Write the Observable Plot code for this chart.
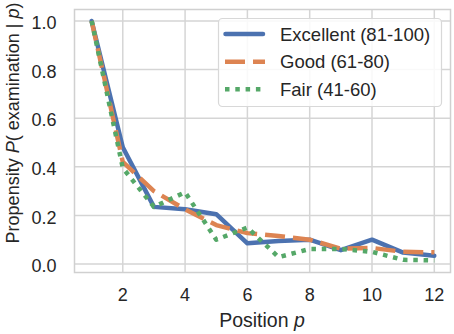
<!DOCTYPE html>
<html>
<head>
<meta charset="utf-8">
<script src="https://cdn.jsdelivr.net/npm/d3@7"></script>
<script src="https://cdn.jsdelivr.net/npm/@observablehq/plot@0.6"></script>
<style>
  html, body { margin: 0; padding: 0; background: white; }
  svg { display: block; }
</style>
</head>
<body>
<div id="chart"></div>
<script>
const positions = [1, 2, 3, 4, 5, 6, 7, 8, 9, 10, 11, 12];
const excellent = [1.0, 0.48, 0.235, 0.225, 0.205, 0.085, 0.095, 0.10, 0.057, 0.10, 0.047, 0.034];
const good      = [1.0, 0.42, 0.30, 0.225, 0.16, 0.127, 0.115, 0.10, 0.063, 0.066, 0.05, 0.048];
const fair      = [1.0, 0.395, 0.235, 0.295, 0.10, 0.15, 0.028, 0.062, 0.062, 0.05, 0.017, 0.015];
const seriesNames = ["Excellent (81-100)", "Good (61-80)", "Fair (41-60)"];
const seriesColors = ["#4c72b0", "#dd8452", "#55a868"];
const seriesDash = [null, "20,8", "4.5,5.8"];
const xTicks = [2, 4, 6, 8, 10, 12];
const yTicks = [0.0, 0.2, 0.4, 0.6, 0.8, 1.0];

const allSeries = [excellent, good, fair];
const rows = allSeries.map((vals, s) => positions.map((p, i) => ({p, v: vals[i], s: seriesNames[s]})));

const FONT = "'Liberation Sans', Arial, Helvetica, sans-serif";
const TXT = "#262626";

const lineMarks = rows.map((data, s) => Plot.line(data, {
  x: "p", y: "v",
  stroke: seriesColors[s],
  strokeWidth: 4.5,
  strokeLinecap: s === 0 ? "round" : "butt",
  strokeLinejoin: "round",
  strokeDasharray: seriesDash[s] || undefined
}));

const svg = Plot.plot({
  width: 454, height: 334,
  marginLeft: 74, marginRight: 4, marginTop: 9, marginBottom: 62,
  style: {fontFamily: FONT, fontSize: "18px", color: TXT, background: "white", overflow: "visible"},
  x: {domain: [0.45, 12.52]},
  y: {domain: [-0.035, 1.047]},
  marks: [
    Plot.gridX(xTicks, {stroke: "#d5d5d5", strokeOpacity: 1, strokeWidth: 1.5}),
    Plot.gridY(yTicks, {stroke: "#d5d5d5", strokeOpacity: 1, strokeWidth: 1.5}),
    Plot.frame({stroke: "#d0d0d0", strokeWidth: 1.5}),
    Plot.axisX(xTicks, {tickSize: 0, tickPadding: 16, label: null, fontSize: 18, fill: TXT}),
    Plot.axisY(yTicks, {tickSize: 0, tickPadding: 18, label: null, fontSize: 18, fill: TXT,
      tickFormat: d => d.toFixed(1), dy: 2.5}),
    ...lineMarks
  ]
});

const g = d3.select(svg);

// Axis labels
const xl = g.append("text")
  .attr("x", 262).attr("y", 327)
  .attr("text-anchor", "middle")
  .attr("font-family", FONT).attr("font-size", 19.5).attr("fill", TXT);
xl.append("tspan").text("Position ");
xl.append("tspan").attr("font-style", "italic").text("p");

const yl = g.append("text")
  .attr("transform", "translate(19,123) rotate(-90)")
  .attr("text-anchor", "middle")
  .attr("font-family", FONT).attr("font-size", 18).attr("fill", TXT);
yl.append("tspan").text("Propensity ");
yl.append("tspan").attr("font-style", "italic").text("P");
yl.append("tspan").text("( examination | ");
yl.append("tspan").attr("font-style", "italic").text("p");
yl.append("tspan").text(")");

// Legend
const lg = g.append("g").attr("text-anchor", "start");
lg.append("rect")
  .attr("x", 218.5).attr("y", 18.5).attr("width", 223).attr("height", 88)
  .attr("rx", 4).attr("fill", "white").attr("fill-opacity", 0.85)
  .attr("stroke", "#d8d8d8").attr("stroke-width", 1.2);
const rowY = [34, 61.7, 89.2];
seriesNames.forEach((name, s) => {
  const ln = lg.append("line")
    .attr("x1", s === 0 ? 225.5 : 225).attr("x2", s === 0 ? 263 : 265)
    .attr("y1", rowY[s]).attr("y2", rowY[s])
    .attr("stroke", seriesColors[s]).attr("stroke-width", 4.5)
    .attr("stroke-linecap", s === 0 ? "round" : "butt");
  if (seriesDash[s]) ln.attr("stroke-dasharray", seriesDash[s]);
  lg.append("text")
    .attr("x", 280).attr("y", rowY[s] + 6.7)
    .attr("text-anchor", "start")
    .attr("font-family", FONT).attr("font-size", 18.5).attr("fill", TXT)
    .text(name);
});

document.getElementById("chart").appendChild(svg);
</script>
</body>
</html>
